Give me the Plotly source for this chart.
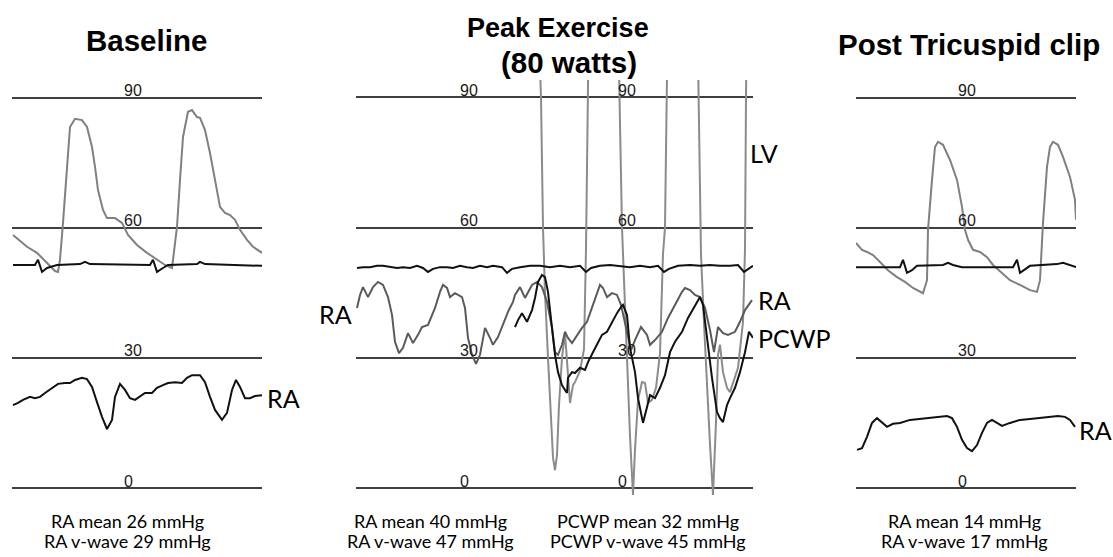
import plotly.graph_objects as go

# ---------------- Baseline panel (time in s, pressure in mmHg) ----------------
base_art_t = [0.01,0.15,0.25,0.35,0.43,0.46,0.48,0.51,0.55,0.58,0.63,0.70,0.75,0.80,0.83,0.86,0.91,0.95,1.03,1.10,
              1.16,1.25,1.35,1.45,1.53,1.60,1.61,1.65,1.68,1.71,1.76,1.80,1.85,1.88,1.93,1.98,2.03,2.08,2.13,2.18,
              2.23,2.28,2.35,2.41,2.50]
base_art_p = [58.3,55.6,54.2,51.9,50.0,49.8,52.6,61.1,74.9,83.2,85.1,84.8,83.2,78.6,74.0,68.7,64.1,62.2,62.2,61.1,
              58.3,56.0,54.2,52.6,51.4,50.7,52.6,60.2,71.0,80.9,86.7,87.1,85.5,85.3,82.5,77.2,71.0,64.8,63.4,62.9,
              61.8,59.5,57.2,55.6,54.2]
base_ecg_t = [0.01,0.23,0.26,0.30,0.35,0.38,0.45,0.68,0.73,0.78,1.38,1.41,1.45,1.51,1.56,1.85,1.88,1.93,2.50]
base_ecg_p = [51.4,51.4,52.6,49.8,50.7,50.9,51.4,51.6,52.1,51.6,51.4,52.6,49.8,50.7,51.4,51.6,52.1,51.6,51.2]
base_ra_t = [0.01,0.06,0.11,0.18,0.23,0.28,0.33,0.40,0.46,0.53,0.58,0.63,0.70,0.75,0.80,0.85,0.90,0.95,1.00,1.03,
             1.08,1.13,1.18,1.23,1.28,1.33,1.40,1.45,1.51,1.56,1.63,1.70,1.75,1.80,1.88,1.93,1.98,2.03,2.10,2.15,
             2.20,2.24,2.28,2.33,2.38,2.43,2.50]
base_ra_p = [19.1,19.6,20.3,21.0,20.7,21.0,21.9,23.1,24.0,24.2,24.2,24.9,25.4,25.1,23.3,19.8,16.4,13.6,15.7,21.0,
             24.0,22.6,20.7,20.3,21.0,21.9,21.9,23.1,23.7,24.2,24.4,24.2,25.4,26.0,26.0,24.4,21.0,18.0,15.7,17.3,
             22.6,24.9,23.3,20.7,20.7,21.2,21.4]

# ---------------- Peak exercise panel ----------------
peak_ecg_t = [0.01,0.07,0.14,0.21,0.27,0.34,0.41,0.47,0.54,0.61,0.67,0.72,0.77,0.84,0.91,0.97,1.04,1.11,1.17,1.24,
              1.31,1.37,1.46,1.51,1.56,1.64,1.74,1.84,1.94,2.04,2.14,2.24,2.30,2.35,2.44,2.54,2.64,2.74,2.84,2.94,
              3.02,3.08,3.13,3.22,3.34,3.44,3.54,3.64,3.74,3.82,3.88,3.93,3.97]
peak_ecg_p = [50.7,50.9,50.9,51.2,51.2,50.9,50.7,50.9,50.7,51.2,50.7,49.8,50.5,50.9,50.9,50.7,51.2,50.9,50.7,51.2,
              50.9,51.2,50.9,49.6,50.5,50.9,51.2,51.2,50.9,51.2,50.9,51.2,49.8,50.7,51.2,51.4,51.2,50.9,51.2,50.9,
              51.2,49.8,50.5,51.2,51.4,51.2,51.4,51.2,51.2,51.4,49.8,50.5,51.2]
peak_ra_t = [0.01,0.04,0.07,0.12,0.17,0.22,0.27,0.32,0.36,0.39,0.43,0.47,0.52,0.57,0.62,0.66,0.72,0.79,0.84,0.87,
             0.91,0.94,0.99,1.06,1.09,1.12,1.16,1.20,1.24,1.29,1.34,1.37,1.42,1.47,1.52,1.57,
             1.59,1.64,1.69,1.76,1.81,1.86,1.91,1.96,1.99,2.02,2.06,2.09,2.12,2.16,2.21,2.26,2.31,2.36,2.41,2.44,
             2.47,2.51,2.56,2.61,2.65,2.71,2.75,2.79,2.85,2.91,2.94,2.99,3.06,3.12,3.19,3.26,3.29,3.34,3.39,3.44,
             3.49,3.54,3.58,3.62,3.67,3.72,3.79,3.84,3.89,3.96]
peak_ra_p = [41.5,44.5,46.3,44.0,46.3,47.5,46.8,44.0,39.9,33.7,31.1,32.3,35.7,33.4,35.3,37.1,37.6,41.5,45.2,46.8,
             46.1,44.0,44.9,44.0,41.5,34.6,30.7,28.6,30.7,36.9,34.6,33.0,34.8,37.6,40.6,42.9,
             44.5,46.3,43.8,46.8,47.5,46.3,42.9,36.9,31.3,30.7,33.0,36.0,34.6,33.4,35.3,36.9,38.3,41.5,45.2,46.8,
             46.1,44.0,44.9,44.5,42.2,36.4,31.8,34.1,37.1,35.3,33.0,34.1,36.0,39.2,42.2,45.2,46.1,45.6,44.5,44.0,
             41.5,36.4,31.3,37.1,35.7,35.3,36.0,38.3,41.0,43.3]
peak_pcwp_t = [1.59,1.62,1.66,1.71,1.76,1.79,1.82,1.86,1.89,1.92,1.96,1.99,2.02,2.06,2.09,2.11,2.12,2.16,2.19,2.24,
               2.29,2.32,2.37,2.41,2.46,2.51,2.56,2.61,2.65,2.67,2.71,2.74,2.79,2.82,2.87,2.91,2.94,2.99,3.04,3.09,
               3.14,3.19,3.26,3.32,3.39,3.44,3.47,3.51,3.56,3.61,3.64,3.67,3.71,3.74,3.79,3.84,3.89,3.93,3.97]
peak_pcwp_p = [37.1,38.7,40.3,38.3,41.0,43.8,47.5,49.1,48.6,45.2,36.9,30.7,26.7,23.7,22.6,21.9,25.4,26.7,26.5,27.7,
               27.2,29.0,31.3,33.0,35.3,36.0,38.3,40.3,41.7,42.2,39.9,32.3,26.7,20.7,15.0,19.1,21.4,20.7,23.1,26.0,
               31.3,33.7,36.0,39.2,42.2,44.0,42.2,34.6,25.4,17.5,16.1,15.2,19.1,20.7,23.1,26.7,31.3,36.0,34.6]
peak_lv_t = [1.79,1.84,1.85,1.87,1.89,1.92,1.95,1.97,1.99,2.01,2.03,2.06,2.09,2.12,2.14,2.17,2.19,2.24,2.28,2.30,
             2.31,2.32,2.34,2.61,2.63,2.635,2.66,2.70,2.74,2.77,2.79,2.82,2.86,2.89,2.92,2.96,3.00,3.04,3.07,3.09,
             3.107,3.11,3.13,3.40,3.42,3.425,3.44,3.45,3.48,3.51,3.54,3.57,3.60,3.62,3.64,3.67,3.71,3.74,3.77,3.82,
             3.87,3.89,3.90,3.905,3.92]
peak_lv_p = [130,94.5,90.0,60.0,45.0,30.0,15.0,7.0,4.1,7.6,19.1,30.0,35.7,25.0,19.6,23.7,24.4,27.0,32.0,55.0,
             80.0,94.5,130,130,94.5,90.0,60.0,35.0,12.0,-1.6,8.8,20.3,24.4,24.2,19.6,20.3,23.1,31.0,54.0,60.0,
             90.0,94.5,130,130,94.5,90.0,60.0,53.7,38.0,23.1,10.0,-1.6,15.2,30.7,33.0,26.7,23.1,22.1,24.4,27.7,
             38.3,55.0,90.0,94.5,130]

# ---------------- Post tricuspid clip panel ----------------
post_art_t = [0.00,0.06,0.11,0.17,0.24,0.32,0.41,0.49,0.57,0.64,0.67,0.71,0.72,0.76,0.79,0.82,0.87,0.94,1.01,1.06,
              1.09,1.12,1.17,1.24,1.31,1.37,1.46,1.54,1.64,1.74,1.81,1.84,1.87,1.91,1.94,1.97,2.02,2.07,2.14,2.19,2.20]
post_art_p = [56.5,54.9,54.4,53.7,52.1,50.2,48.6,47.5,46.1,45.2,44.9,47.9,59.5,71.0,78.6,79.8,79.1,75.6,71.0,64.8,
              59.5,57.2,54.9,54.4,53.2,51.4,49.6,47.9,46.8,45.6,45.2,47.9,61.1,74.0,78.6,79.8,79.1,76.3,71.7,66.4,61.8]
post_ecg_t = [0.00,0.44,0.47,0.51,0.56,0.61,0.87,0.92,0.97,1.06,1.57,1.61,1.64,1.69,1.74,2.01,2.07,2.20]
post_ecg_p = [50.9,50.9,52.6,49.6,50.2,51.2,51.4,51.9,51.4,50.9,50.9,52.6,49.6,50.5,51.2,51.6,51.9,50.9]
post_ra_t = [0.01,0.06,0.11,0.16,0.21,0.26,0.31,0.37,0.44,0.54,0.64,0.74,0.84,0.91,0.96,1.01,1.06,1.11,1.16,1.21,
             1.26,1.31,1.36,1.41,1.46,1.54,1.64,1.74,1.84,1.94,2.02,2.09,2.14,2.19]
post_ra_p = [8.8,9.2,11.8,15.0,16.1,15.0,14.1,14.8,15.0,15.7,15.9,16.1,16.4,16.6,16.1,14.1,11.1,9.2,8.5,9.9,
             12.7,15.0,15.7,15.0,14.3,15.0,15.7,15.9,16.1,16.4,16.6,16.4,15.7,14.1]

grid_values = [0, 30, 60, 90]
grid_labels = ["0", "30", "60", "90"]
titles = ["Baseline", "Peak Exercise", "(80 watts)", "Post Tricuspid clip"]
notes = [["RA mean 26 mmHg", "RA v-wave 29 mmHg"],
         ["RA mean 40 mmHg", "RA v-wave 47 mmHg"],
         ["PCWP mean 32 mmHg", "PCWP v-wave 45 mmHg"],
         ["RA mean 14 mmHg", "RA v-wave 17 mmHg"]]

W, H = 1113, 557
def px(x):
    return x / W
def py(y):
    return 1 - y / H

BLACK = "#111111"
ART = "#808080"
RAG = "#5a5a5a"
LVG = "#8c8c8c"
GRID = "#3f3f3f"

fig = go.Figure()
def line(t, p, color, ax):
    fig.add_trace(go.Scatter(x=t, y=p, mode="lines", line=dict(color=color, width=2),
                             xaxis="x" + ax, yaxis="y" + ax, hoverinfo="skip", showlegend=False))

line(base_art_t, base_art_p, ART, "")
line(base_ecg_t, base_ecg_p, BLACK, "")
line(base_ra_t, base_ra_p, BLACK, "")
line(peak_lv_t, peak_lv_p, LVG, "2")
line(peak_ra_t, peak_ra_p, RAG, "2")
line(peak_pcwp_t, peak_pcwp_p, BLACK, "2")
line(peak_ecg_t, peak_ecg_p, BLACK, "2")
line(post_art_t, post_art_p, ART, "3")
line(post_ecg_t, post_ecg_p, BLACK, "3")
line(post_ra_t, post_ra_p, BLACK, "3")

ylo = -15.90
yhi = 112.47
peak_top = 94.03
xax = dict(visible=False, showgrid=False, zeroline=False, fixedrange=True)
yax = dict(showgrid=True, gridcolor=GRID, gridwidth=2, tickvals=grid_values, showticklabels=False,
           zeroline=False, showline=False, ticks="", fixedrange=True)

fig.update_layout(
    width=W, height=H, margin=dict(l=0, r=0, t=0, b=0),
    plot_bgcolor="white", paper_bgcolor="white", showlegend=False,
    xaxis=dict(xax, domain=[px(12), px(262)], range=[0, 2.50]),
    xaxis2=dict(xax, domain=[px(356), px(753)], range=[0, 3.97]),
    xaxis3=dict(xax, domain=[px(856), px(1076)], range=[0, 2.20]),
    yaxis=dict(yax, anchor="x", domain=[0, 1], range=[ylo, yhi]),
    yaxis2=dict(yax, anchor="x2", domain=[0, (H - 80) / H], range=[ylo, peak_top]),
    yaxis3=dict(yax, anchor="x3", domain=[0, 1], range=[ylo, yhi]),
)

ann = []
# grid value labels
for xr, yr, xpos in [("x", "y", 1.10), ("x2", "y2", 1.02), ("x2", "y2", 2.60), ("x3", "y3", 1.00)]:
    for v, lab in zip(grid_values, grid_labels):
        ann.append(dict(x=xpos, y=v + 1.6, xref=xr, yref=yr, text=lab, showarrow=False,
                        xanchor="left", yanchor="middle",
                        font=dict(family="Liberation Sans, Arial", size=16, color="#1a1a1a")))

# titles
for text, x, y, s in [(titles[0], 146, 40, 29.5), (titles[1], 558, 28, 27),
                      (titles[2], 569, 62, 29.5), (titles[3], 969, 45, 29.5)]:
    ann.append(dict(x=px(x), y=py(y), xref="paper", yref="paper", text="<b>" + text + "</b>",
                    showarrow=False, xanchor="center", yanchor="middle",
                    font=dict(family="Liberation Sans, Arial", size=s, color="black")))

# trace labels
lfont = dict(family="Lato, Carlito, sans-serif", size=25, color="black")
for text, x, y, anc in [("RA", 265, 398, "left"), ("RA", 354, 314, "right"), ("LV", 748, 153, "left"),
                        ("RA", 756, 300, "left"), ("PCWP", 756, 338, "left"), ("RA", 1077, 430, "left")]:
    ann.append(dict(x=px(x), y=py(y), xref="paper", yref="paper", text=text, showarrow=False,
                    xanchor=anc, yanchor="middle", font=lfont))

# bottom notes
nfont = dict(family="Lato, Carlito, sans-serif", size=18, color="black")
for lines, x in zip(notes, [127, 430, 648, 964]):
    for i, text in enumerate(lines):
        ann.append(dict(x=px(x), y=py(521 + 20 * i), xref="paper", yref="paper", text=text,
                        showarrow=False, xanchor="center", yanchor="middle", font=nfont))

fig.update_layout(annotations=ann)
fig.write_html("out.html", config={"displayModeBar": False},
               post_script="document.body.style.margin='0';")
